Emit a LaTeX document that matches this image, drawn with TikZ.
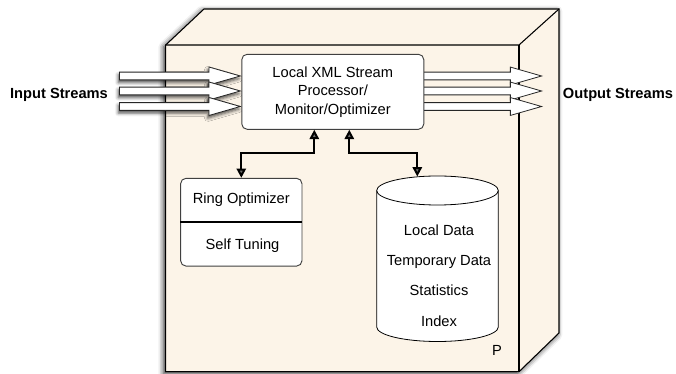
\documentclass[tikz,border=0pt]{standalone}
\usepackage{fontspec}
\setmainfont{Liberation Sans}
\usetikzlibrary{shapes.arrows,arrows.meta,shadows.blur}
\definecolor{boxcream}{RGB}{252,244,232}

\begin{document}
\begin{tikzpicture}[x=0.75pt,y=-0.75pt,
		every node/.style={font=\fontsize{11}{13.9}\selectfont},
		face/.style={draw=black,line width=0.8pt,fill=boxcream},
		stream/.style={single arrow,draw=black!85,fill=white,line width=0.6pt,
			inner xsep=0pt,inner ysep=2.6pt,minimum height=90.5pt,
			single arrow head extend=3.8pt,single arrow tip angle=32,anchor=tip},
		streamshade/.style={blur shadow={shadow xshift=-1pt,shadow yshift=-2pt,shadow blur radius=2.5pt,shadow opacity=70}},
		procbox/.style={draw=black!75,fill=white,line width=0.7pt,rounded corners=4pt},
		link/.style={line width=1.5pt,{Triangle[length=7pt,width=7pt]}-{Triangle[length=7pt,width=7pt]}}]
			\useasboundingbox (0,0) rectangle (676,374);
			
			% the node P as a block
			\filldraw[face,blur shadow={shadow xshift=-1.5pt,shadow yshift=-1.5pt,shadow blur radius=4pt,shadow opacity=85}]
				(165.7,45) -- (204,9) -- (559,9) -- (559,333) -- (519,371.7) -- (165.7,371.7) -- cycle;
			\draw[line width=0.8pt] (165.7,45) -- (519,45) -- (559,9);
			\draw[line width=0.8pt] (519,45) -- (519,371.7);
			
			\node[stream,streamshade] (in1) at (241.7,76) {};
			\node[stream,streamshade] (in2) at (241.7,91) {};
			\node[stream,streamshade] (in3) at (241.7,106.5) {};
			\node[stream] (out1) at (543,76) {};
			\node[stream] (out2) at (543,91) {};
			\node[stream] (out3) at (543,106.5) {};
			
			\node[procbox,minimum width=136.5pt,minimum height=56.25pt,align=center] (proc) at (332.8,91.8)
				{Local XML Stream\\Processor/\\Monitor/Optimizer};
			\node[font=\bfseries\fontsize{11}{13.9}\selectfont] (instreams) at (59,94.5) {Input Streams};
			\node[font=\bfseries\fontsize{11}{13.9}\selectfont] (outstreams) at (618,94.5) {Output Streams};
			
			% ring optimizer
			\node[procbox,minimum width=91pt,minimum height=65.8pt] (ring) at (241.3,222.2) {};
			\draw[line width=1.2pt] (ring.west) -- (ring.east);
			\node (ringopt) at (241.3,200) {Ring Optimizer};
			\node (tuning) at (242.5,245.7) {Self Tuning};
			
			% data store
			\filldraw[fill=white,draw=black,line width=0.6pt] (376.7,190.5) -- (376.7,327)
				arc[start angle=180,end angle=0,x radius=60.8,y radius=14.5] -- (498.3,190.5);
			\filldraw[fill=white,draw=black,line width=0.6pt] (437.5,190.5) ellipse[x radius=60.8,y radius=14.5];
			\node[align=center,font=\fontsize{11}{22.7}\selectfont] (storedata) at (439,275.5)
				{Local Data\\Temporary Data\\Statistics\\Index};
			\node (plabel) at (497,350) {P};
			
			\coordinate (bendL) at (314.3,152.7);
			\coordinate (bendR) at (349.3,152.7);
			\coordinate (storetop) at (417.3,176.5);
			\draw[link] (ring.north) |- (bendL) -- (bendL |- proc.south);
			\draw[link] (bendR |- proc.south) -- (bendR) -| (storetop);
		\end{tikzpicture}
\end{document}
